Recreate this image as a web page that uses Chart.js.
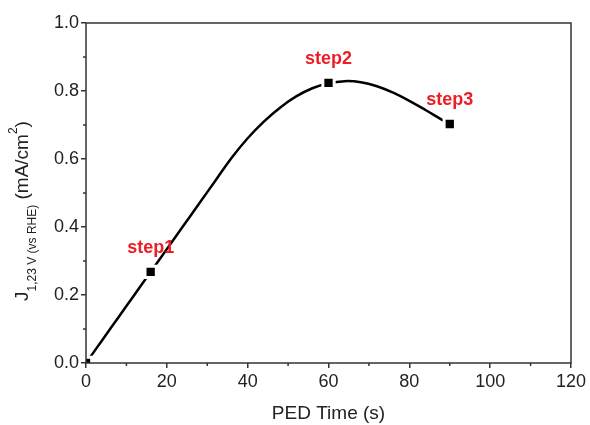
<!DOCTYPE html>
<html>
<head>
<meta charset="utf-8">
<script src="https://cdn.jsdelivr.net/npm/chart.js@4/dist/chart.umd.min.js"></script>
<style>
  body { margin: 0; background: #fff; }
</style>
</head>
<body>
<canvas id="pedChart" width="590" height="425"></canvas>
<script>
// data
const stepTimes = [0, 16, 60, 90];
const stepValues = [0, 0.268, 0.824, 0.703];
const stepLabels = ['', 'step1', 'step2', 'step3'];

// fitted curve, traced by eye
const curveTimes = [0, 4, 8, 12, 16, 20, 24, 28, 32, 36, 40, 44, 48, 52, 56, 60, 64, 68, 72, 76, 80, 84, 88, 90];
const curveValues = [0, 0.067, 0.134, 0.201, 0.268, 0.335, 0.402, 0.469, 0.536, 0.603, 0.661, 0.710, 0.751,
  0.784, 0.808, 0.823, 0.829, 0.826, 0.814, 0.795, 0.771, 0.744, 0.716, 0.703];

const xTicks = [0, 20, 40, 60, 80, 100, 120];
const xMinor = [10, 30, 50, 70, 90, 110];
const yTicks = [0, 0.2, 0.4, 0.6, 0.8, 1.0];
const yTickLabels = ['0.0', '0.2', '0.4', '0.6', '0.8', '1.0'];
const yMinor = [0.1, 0.3, 0.5, 0.7, 0.9];

const FONT = "'Liberation Sans', Arial, sans-serif";
const AXIS = '#333';

const stepPoints = stepTimes.map((t, i) => ({ x: t, y: stepValues[i] }));
const curvePoints = curveTimes.map((t, i) => ({ x: t, y: curveValues[i] }));

// frame, minor ticks, step labels and the y title with sub/superscripts
const extras = {
  id: 'extras',
  afterDraw(chart) {
    const ctx = chart.ctx;
    const a = chart.chartArea;
    const xs = chart.scales.x, ys = chart.scales.y;
    ctx.save();
    ctx.strokeStyle = AXIS;
    ctx.lineWidth = 1.5;
    ctx.strokeRect(a.left, a.top, a.right - a.left, a.bottom - a.top);

    ctx.beginPath();
    xMinor.forEach(v => {
      const px = xs.getPixelForValue(v);
      ctx.moveTo(px, a.bottom);
      ctx.lineTo(px, a.bottom + 3);
    });
    yMinor.forEach(v => {
      const py = ys.getPixelForValue(v);
      ctx.moveTo(a.left, py);
      ctx.lineTo(a.left - 3, py);
    });
    ctx.stroke();

    ctx.fillStyle = '#ee1c24';
    ctx.font = 'bold 18px ' + FONT;
    ctx.textAlign = 'center';
    ctx.textBaseline = 'middle';
    stepLabels.forEach((lab, i) => {
      if (!lab) return;
      ctx.fillText(lab, xs.getPixelForValue(stepTimes[i]), ys.getPixelForValue(stepValues[i]) - 24);
    });

    // y axis title
    const parts = [
      { t: 'J', size: 19, dy: 0 },
      { t: '1,23 V (vs RHE)', size: 12, dy: 8 },
      { t: ' (mA/cm', size: 19, dy: 0 },
      { t: '2', size: 12, dy: -11 },
      { t: ')', size: 19, dy: 0 }
    ];
    let total = 0;
    parts.forEach(p => {
      ctx.font = p.size + 'px ' + FONT;
      p.w = ctx.measureText(p.t).width;
      total += p.w;
    });
    const cy = (a.top + a.bottom) / 2 + 18;
    ctx.translate(28, cy);
    ctx.rotate(-Math.PI / 2);
    ctx.fillStyle = '#222';
    ctx.textAlign = 'left';
    ctx.textBaseline = 'alphabetic';
    let pos = -total / 2;
    parts.forEach(p => {
      ctx.font = p.size + 'px ' + FONT;
      ctx.fillText(p.t, pos, p.dy);
      pos += p.w;
    });
    ctx.restore();
  }
};

new Chart(document.getElementById('pedChart'), {
  type: 'scatter',
  data: {
    datasets: [
      {
        data: stepPoints,
        showLine: false,
        pointStyle: 'rect',
        pointRadius: 8,
        pointBackgroundColor: '#000',
        pointBorderColor: '#fff',
        pointBorderWidth: 3
      },
      {
        data: curvePoints,
        showLine: true,
        borderColor: '#000',
        borderWidth: 2.5,
        pointRadius: 0,
        tension: 0.4
      }
    ]
  },
  options: {
    responsive: false,
    animation: false,
    devicePixelRatio: 1,
    layout: { padding: { top: 23, right: 19, left: 0, bottom: 0 } },
    plugins: { legend: { display: false }, tooltip: { enabled: false } },
    scales: {
      x: {
        type: 'linear',
        min: 0,
        max: 120,
        afterBuildTicks: s => { s.ticks = xTicks.map(v => ({ value: v })); },
        afterFit: s => { s.height = 62; },
        border: { display: false },
        grid: { drawOnChartArea: false, tickLength: 5, color: AXIS, lineWidth: 1.5 },
        ticks: { color: '#222', font: { family: FONT, size: 18 }, padding: 3, maxRotation: 0 },
        title: { display: true, text: 'PED Time (s)', color: '#222', font: { family: FONT, size: 19 }, padding: 0 }
      },
      y: {
        min: 0,
        max: 1,
        afterBuildTicks: s => { s.ticks = yTicks.map(v => ({ value: v })); },
        afterFit: s => { s.width = 86; },
        border: { display: false },
        grid: { drawOnChartArea: false, tickLength: 5, color: AXIS, lineWidth: 1.5 },
        ticks: {
          color: '#222',
          font: { family: FONT, size: 18 },
          padding: 2,
          callback: (v, i) => yTickLabels[i]
        }
      }
    }
  },
  plugins: [extras]
});
</script>
</body>
</html>
